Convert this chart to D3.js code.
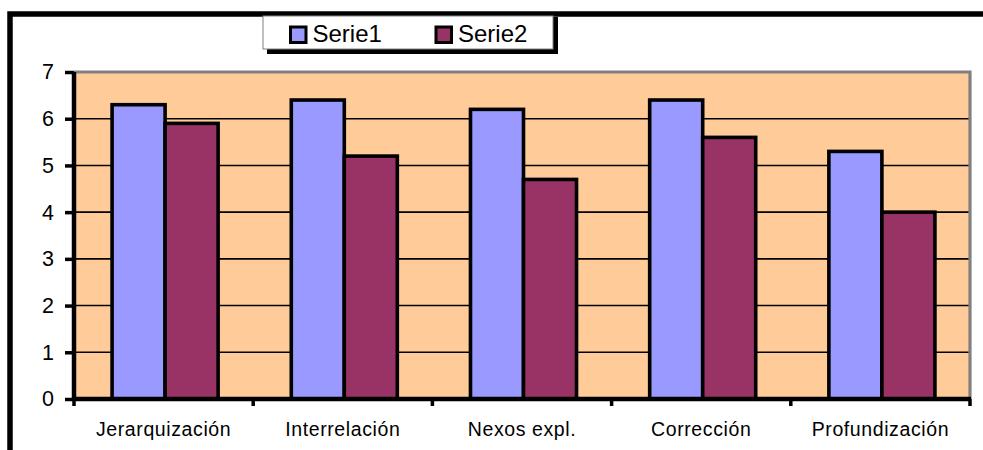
<!DOCTYPE html>
<html>
<head>
<meta charset="utf-8">
<script src="https://cdn.jsdelivr.net/npm/d3@7/dist/d3.min.js"></script>
<style>
  html, body { margin: 0; padding: 0; background: #ffffff; overflow: hidden; }
  svg { display: block; font-family: "Liberation Sans", Arial, sans-serif; }
</style>
</head>
<body>
<svg id="chart" width="983" height="450"></svg>
<script>
const categories = ["Jerarquización", "Interrelación", "Nexos expl.", "Corrección", "Profundización"];
const seriesNames = ["Serie1", "Serie2"];
const serie1 = [6.3, 6.4, 6.2, 6.4, 5.3];
const serie2 = [5.9, 5.2, 4.7, 5.6, 4.0];
const yTicks = [0, 1, 2, 3, 4, 5, 6, 7];
const seriesColors = ["#9999FF", "#993366"];

const svg = d3.select("#chart");
const plot = { left: 74, right: 970, top: 72, bottom: 399 };

// outer chart border (cropped on right and bottom)
svg.append("path")
  .attr("d", "M10,480V14H1000")
  .attr("fill", "none").attr("stroke", "#000").attr("stroke-width", 5.5);

const x0 = d3.scaleBand().domain(categories).range([plot.left, plot.right]).paddingInner(0).paddingOuter(0);
const x1 = d3.scaleBand().domain(seriesNames).range([0, x0.bandwidth()]).paddingInner(0).paddingOuter(0.69);
const y = d3.scaleLinear().domain([0, 7]).range([plot.bottom, plot.top]);

// plot background
svg.append("rect")
  .attr("x", plot.left).attr("y", plot.top)
  .attr("width", plot.right - plot.left).attr("height", plot.bottom - plot.top)
  .attr("fill", "#FFCC99");

// gridlines
svg.append("g").selectAll("line").data(yTicks.filter(t => t > 0 && t < 7)).join("line")
  .attr("x1", plot.left).attr("x2", plot.right)
  .attr("y1", d => y(d)).attr("y2", d => y(d))
  .attr("stroke", "#000").attr("stroke-width", 1.6);

// plot border top/right (gray)
svg.append("path")
  .attr("d", `M${plot.left},${plot.top}H${plot.right}V${plot.bottom}`)
  .attr("fill", "none").attr("stroke", "#808080").attr("stroke-width", 3.2);

// bars
const data = categories.map((c, i) => ({ cat: c, vals: [serie1[i], serie2[i]] }));
const groups = svg.append("g").selectAll("g").data(data).join("g")
  .attr("transform", d => `translate(${x0(d.cat)},0)`);
groups.selectAll("rect").data(d => d.vals.map((v, j) => ({ s: seriesNames[j], v, j }))).join("rect")
  .attr("x", d => x1(d.s) + 1.5)
  .attr("width", x1.bandwidth())
  .attr("y", d => y(d.v))
  .attr("height", d => y(0) - y(d.v))
  .attr("fill", d => seriesColors[d.j])
  .attr("stroke", "#000").attr("stroke-width", 3.6);

// y axis
const yAxis = svg.append("g").attr("transform", `translate(${plot.left},0)`)
  .call(d3.axisLeft(y).tickValues(yTicks).tickSize(9).tickPadding(11).tickFormat(d3.format("d")));
yAxis.select(".domain").attr("stroke", "#000").attr("stroke-width", 4.5)
  .attr("d", `M0,${plot.top}V${plot.bottom + 2}`);
yAxis.selectAll(".tick line").attr("stroke", "#000").attr("stroke-width", 3.5);
yAxis.selectAll(".tick text").attr("font-size", 21.5).attr("fill", "#000")
  .attr("font-family", "Liberation Sans, Arial, sans-serif");

// x axis
const boundaries = categories.map(c => x0(c)).concat([plot.right]);
const xAxis = svg.append("g");
xAxis.append("line")
  .attr("x1", plot.left - 2).attr("x2", plot.right + 1)
  .attr("y1", plot.bottom).attr("y2", plot.bottom)
  .attr("stroke", "#000").attr("stroke-width", 4.5);
xAxis.selectAll("line.tk").data(boundaries).join("line").attr("class", "tk")
  .attr("x1", d => d).attr("x2", d => d)
  .attr("y1", plot.bottom).attr("y2", plot.bottom + 7)
  .attr("stroke", "#000").attr("stroke-width", 3.5);
xAxis.selectAll("text").data(categories).join("text")
  .attr("x", d => x0(d) + x0.bandwidth() / 2)
  .attr("y", 436)
  .attr("text-anchor", "middle")
  .attr("font-size", 19.5)
  .attr("letter-spacing", 0.6)
  .attr("fill", "#000")
  .text(d => d);

// legend
const lg = svg.append("g");
lg.append("rect").attr("x", 267).attr("y", 17).attr("width", 291).attr("height", 37).attr("fill", "#000");
lg.append("rect").attr("x", 263).attr("y", 16).attr("width", 290).attr("height", 33)
  .attr("fill", "#fff").attr("stroke", "#808080").attr("stroke-width", 1);
const legendX = [290.5, 436];
const items = lg.selectAll("g.item").data(seriesNames).join("g").attr("class", "item")
  .attr("transform", (d, i) => `translate(${legendX[i]},27)`);
items.append("rect").attr("width", 15.5).attr("height", 15.5)
  .attr("fill", (d, i) => seriesColors[i]).attr("stroke", "#000").attr("stroke-width", 3);
items.append("text").attr("x", 22).attr("y", 14.5)
  .attr("font-size", 24).attr("fill", "#000").text(d => d);
</script>
</body>
</html>
